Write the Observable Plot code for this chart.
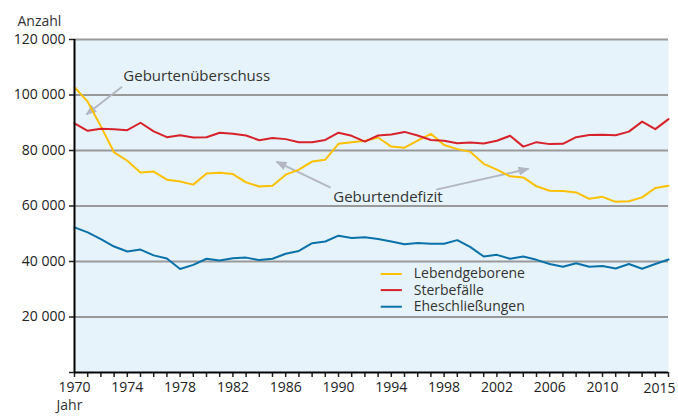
<!DOCTYPE html>
<html><head><meta charset="utf-8">
<script src="https://cdn.jsdelivr.net/npm/d3@7"></script>
<script src="https://cdn.jsdelivr.net/npm/@observablehq/plot@0.6"></script>
<style>body{margin:0;background:#fff;font-family:"Open Sans",sans-serif}</style>
</head><body><div id="chart"></div>
<script>
const years = [1970,1971,1972,1973,1974,1975,1976,1977,1978,1979,1980,1981,1982,1983,1984,1985,1986,1987,1988,1989,1990,1991,1992,1993,1994,1995,1996,1997,1998,1999,2000,2001,2002,2003,2004,2005,2006,2007,2008,2009,2010,2011,2012,2013,2014,2015];
const lebendgeborene = [102800,97600,88700,79300,76300,72100,72400,69500,68800,67700,71700,72000,71500,68500,67000,67300,71300,73100,76000,76700,82400,83000,83500,84700,81400,81000,83600,86000,82000,80500,79500,75200,73100,70700,70300,67100,65500,65400,64900,62600,63300,61500,61700,63100,66500,67300];
const sterbefaelle = [89800,87100,87800,87700,87300,90000,86900,84800,85500,84700,84800,86400,86000,85400,83700,84500,84100,83000,83000,83800,86400,85300,83200,85400,85800,86700,85400,83800,83500,82600,82900,82500,83500,85300,81400,83000,82300,82400,84800,85600,85700,85500,86800,90400,87700,91300];
const eheschliessungen = [52300,50500,48100,45400,43600,44300,42200,41100,37300,38800,41000,40400,41200,41400,40500,41000,42800,43800,46600,47200,49300,48500,48700,48100,47200,46200,46700,46400,46400,47700,45200,41800,42400,41000,41800,40600,39100,38100,39400,38100,38400,37500,39100,37400,39100,40700];
const seriesNames = ["Lebendgeborene", "Sterbefälle", "Eheschließungen"];
const seriesColors = ["#fbc100", "#d7222b", "#0a72a8"];
const xTickLabels = [1970,1974,1978,1982,1986,1990,1994,1998,2002,2006,2010];
const xLastLabel = [2015];
const yTicks = [0,20000,40000,60000,80000,100000,120000];

// annotations (data coordinates)
const annotTexts = [
  {text: "Geburtenüberschuss", x: 1973.7, y: 106800},
  {text: "Geburtendefizit", x: 1989.6, y: 63000}
];
const annotArrows = [
  {x1: 1973.6, y1: 103000, x2: 1970.9, y2: 93000},
  {x1: 1989.4, y1: 66600, x2: 1985.3, y2: 76000},
  {x1: 1997.4, y1: 65900, x2: 2004.4, y2: 73400}
];
// legend positions (data coordinates)
const legendX = [1993.2, 1994.8, 1995.7];
const legendY = [35500, 29700, 23700];

const seriesValues = [lebendgeborene, sterbefaelle, eheschliessungen];
const rows = seriesNames.flatMap((name, s) => years.map((yr, i) => ({year: yr, value: seriesValues[s][i], series: name, color: seriesColors[s]})));
const legend = seriesNames.map((name, s) => ({name, color: seriesColors[s], y: legendY[s]}));

const fmt = d => d === 0 ? "" : d3.format(",")(d).replace(/,/g, " ");

const arrowMarker = (color, context) => {
  const doc = (context && context.document) || document;
  const m = doc.createElementNS("http://www.w3.org/2000/svg", "marker");
  m.setAttribute("viewBox", "-11 -5 11 10");
  m.setAttribute("markerWidth", "11");
  m.setAttribute("markerHeight", "10");
  m.setAttribute("refX", "-1");
  m.setAttribute("markerUnits", "userSpaceOnUse");
  m.setAttribute("orient", "auto");
  const p = doc.createElementNS("http://www.w3.org/2000/svg", "path");
  p.setAttribute("d", "M-11,-4.5L0,0L-11,4.5Z");
  p.setAttribute("fill", color);
  p.setAttribute("stroke", "none");
  m.appendChild(p);
  return m;
};

const chart = Plot.plot({
  width: 678,
  height: 416,
  marginLeft: 74,
  marginRight: 10,
  marginTop: 39,
  marginBottom: 44,
  style: {fontFamily: "'Open Sans', sans-serif", fontSize: "14px", color: "#222", background: "#fff"},
  x: {domain: [1970, 2015], axis: null},
  y: {domain: [0, 120000], axis: null},
  marks: [
    Plot.frame({fill: "#e6f3fa", stroke: null}),
    Plot.gridY(yTicks.filter(d => d > 0), {stroke: "#999", strokeOpacity: 1, strokeWidth: 2}),
    Plot.axisY(yTicks, {tickSize: 5, tickPadding: 4, tickFormat: fmt, color: "#222", fontSize: 14, strokeWidth: 1.5}),
    Plot.axisX(years, {tickSize: 5, tickPadding: 5, tickFormat: d => xTickLabels.includes(d) ? String(d) : "", color: "#222", fontSize: 14, strokeWidth: 1.5}),
    Plot.text(xLastLabel, {x: d => d, y: 0, dy: 16, dx: -9, text: d => String(d), lineAnchor: "middle", fill: "#222", fontSize: 14}),
    Plot.link(annotArrows, {x1: "x1", y1: "y1", x2: "x2", y2: "y2", stroke: "#b3b7c3", strokeWidth: 2, markerEnd: arrowMarker}),
    Plot.line(rows, {x: "year", y: "value", z: "series", stroke: "color", strokeWidth: 2}),
    Plot.ruleY([0], {stroke: "#000", strokeWidth: 2}),
    Plot.ruleX([1970], {stroke: "#000", strokeWidth: 2}),
    Plot.text(annotTexts, {x: "x", y: "y", text: "text", textAnchor: "start", fill: "#333", fontSize: 15}),
    Plot.link(legend, {x1: legendX[0], x2: legendX[1], y1: "y", y2: "y", stroke: "color", strokeWidth: 2}),
    Plot.text(legend, {x: legendX[2], y: "y", text: "name", textAnchor: "start", fill: "#333", fontSize: 14}),
    Plot.text(["Anzahl"], {frameAnchor: "top-left", dx: -57, dy: -23, textAnchor: "start", fill: "#333", fontSize: 14}),
    Plot.text(["Jahr"], {frameAnchor: "bottom-left", dx: -18, dy: 37, textAnchor: "start", fill: "#333", fontSize: 14})
  ]
});
document.getElementById("chart").appendChild(chart);
</script>
</body></html>
